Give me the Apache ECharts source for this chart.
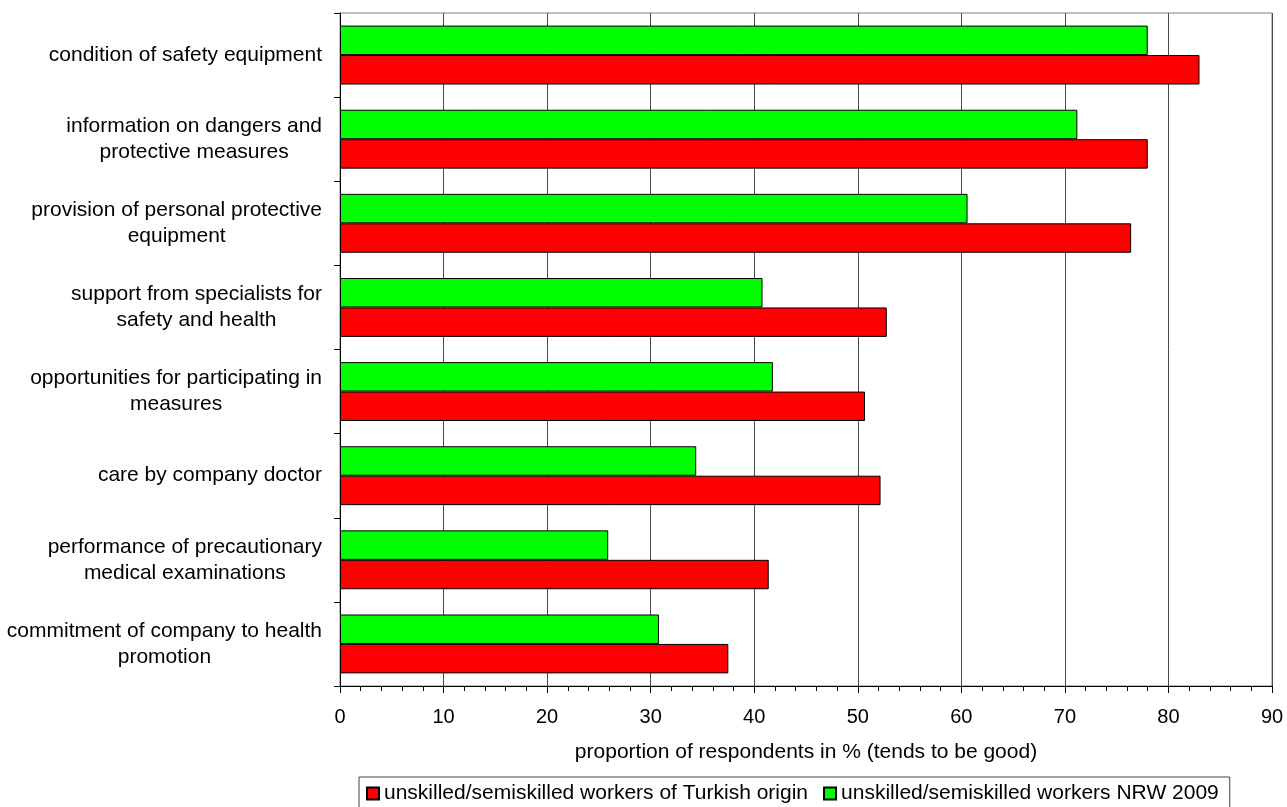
<!DOCTYPE html>
<html>
<head>
<meta charset="utf-8">
<script src="https://cdn.jsdelivr.net/npm/echarts@6/dist/echarts.min.js"></script>
<style>
  html, body { margin: 0; padding: 0; background: #fff; }
  #chart { width: 1287px; height: 807px; }
</style>
</head>
<body>
<div id="chart"></div>
<script>
// Survey items, listed top to bottom
const categories = [
  'condition of safety equipment',
  'information on dangers and\nprotective measures',
  'provision of personal protective\nequipment',
  'support from specialists for\nsafety and health',
  'opportunities for participating in\nmeasures',
  'care by company doctor',
  'performance of precautionary\nmedical examinations',
  'commitment of company to health\npromotion'
];

// Share rating the item as "tends to be good", in %
const turkishValues = [83.0, 78.0, 76.4, 52.8, 50.7, 52.2, 41.4, 37.5];
const nrwValues     = [78.0, 71.2, 60.6, 40.8, 41.8, 34.4, 25.9, 30.8];

const seriesNames = [
  'unskilled/semiskilled workers of Turkish origin',
  'unskilled/semiskilled workers NRW 2009'
];

const FONT = 'Liberation Sans, Arial, sans-serif';

const chart = echarts.init(document.getElementById('chart'));

chart.setOption({
  animation: false,
  backgroundColor: '#ffffff',
  textStyle: { fontFamily: FONT, color: '#000' },
  grid: {
    left: 340, right: 15, top: 13, bottom: 121,
    show: true, borderColor: '#808080', borderWidth: 1
  },
  legend: {
    data: [seriesNames[0], seriesNames[1]],
    left: 359, top: 777,
    orient: 'horizontal',
    itemWidth: 12, itemHeight: 12, itemGap: 15,
    padding: [6, 11, 8, 7],
    borderColor: '#404040', borderWidth: 1,
    icon: 'rect',
    textStyle: { fontFamily: FONT, fontSize: 21, color: '#000' }
  },
  xAxis: {
    type: 'value',
    min: 0, max: 90, interval: 10,
    name: 'proportion of respondents in % (tends to be good)',
    nameLocation: 'middle',
    nameGap: 56,
    nameTextStyle: { fontFamily: FONT, fontSize: 21, color: '#000' },
    axisLine: { show: true, lineStyle: { color: '#000', width: 1 } },
    axisTick: { show: true, length: 7, lineStyle: { color: '#000' } },
    minorTick: { show: true, splitNumber: 5, length: 5, lineStyle: { color: '#000' } },
    axisLabel: { fontFamily: FONT, fontSize: 20, color: '#000', margin: 21 },
    splitLine: { show: true, lineStyle: { color: '#4a4a4a', width: 1 } }
  },
  yAxis: {
    type: 'category',
    data: categories,
    inverse: true,
    axisLine: { show: true, lineStyle: { color: '#000', width: 1 } },
    axisTick: { show: true, length: 6, lineStyle: { color: '#000' } },
    splitLine: { show: false },
    axisLabel: {
      margin: 18,
      formatter: v => v.split('\n').map(s => '{c|' + s + '}').join('\n'),
      rich: {
        c: { align: 'center', fontFamily: FONT, fontSize: 21, lineHeight: 26, color: '#000' }
      }
    }
  },
  series: [
    {
      name: seriesNames[1],
      type: 'bar',
      data: nrwValues,
      barGap: '0%',
      barCategoryGap: '30%',
      itemStyle: { color: '#00ff00', borderColor: '#000', borderWidth: 1 }
    },
    {
      name: seriesNames[0],
      type: 'bar',
      data: turkishValues,
      barGap: '0%',
      barCategoryGap: '30%',
      itemStyle: { color: '#ff0000', borderColor: '#000', borderWidth: 1 }
    }
  ]
});
</script>
</body>
</html>
